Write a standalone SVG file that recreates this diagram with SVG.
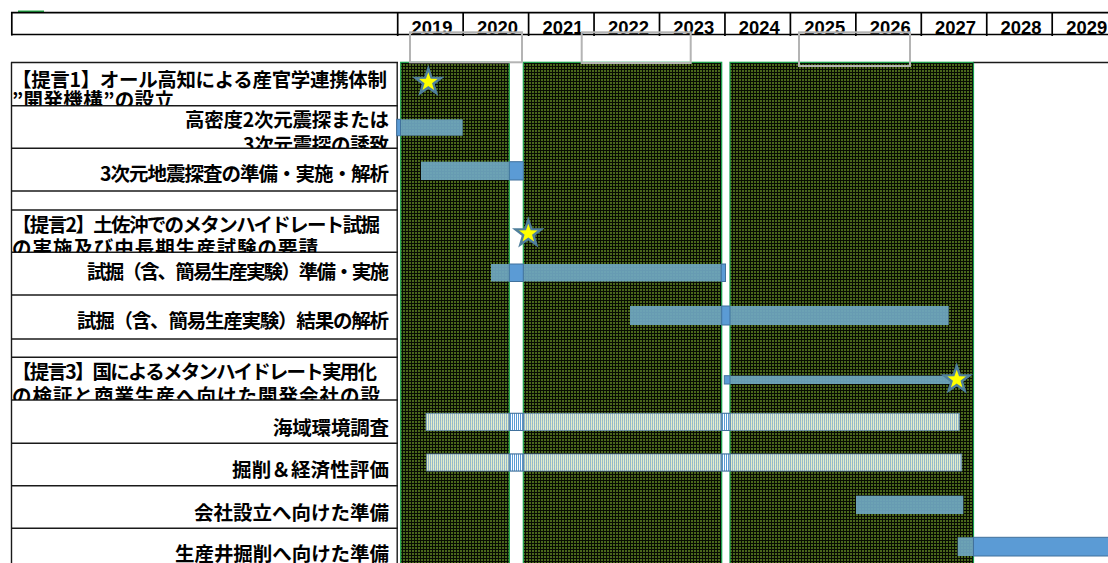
<svg xmlns="http://www.w3.org/2000/svg" width="1108" height="563" viewBox="0 0 1108 563">
<defs>
<style>
.lbl{font-family:"Noto Sans CJK JP","Noto Sans CJK SC",sans-serif;font-weight:700;font-size:19.5px;fill:#000}
.yr{font-family:"Liberation Sans",Arial,sans-serif;font-weight:700;font-size:19px;fill:#000;text-anchor:middle}
.rl{stroke:#1a1a1a;stroke-width:1.4;fill:none}
.hl{stroke:#000;stroke-width:1.7;fill:none}
.blk{fill:url(#grid);stroke:#19a34f;stroke-width:1.2}
.bin{fill:#6fa7bf;opacity:0.93}
.bout{fill:#5b9bd5;stroke:#41719c;stroke-width:1}
.sin{fill:url(#stripeIn);stroke:#6c93b5;stroke-width:0.8;opacity:0.95}
.sout{fill:url(#stripeOut);stroke:#41719c;stroke-width:1}
.star{fill:#ffff00;stroke:#4f7f9c;stroke-width:2.4;stroke-linejoin:miter}
.gbox{fill:none;stroke:#b4b4b4;stroke-width:2}
</style>
<pattern id="grid" width="3" height="3" patternUnits="userSpaceOnUse">
<rect width="3" height="3" fill="#080b03"/>
<rect x="1" y="1" width="2" height="2" fill="#4a671b"/>
</pattern>
<pattern id="stripeIn" width="2" height="4" patternUnits="userSpaceOnUse">
<rect width="2" height="4" fill="#eef7d4"/>
<rect width="1" height="4" fill="#9cc0d6"/>
</pattern>
<pattern id="stripeOut" width="2" height="4" patternUnits="userSpaceOnUse">
<rect width="2" height="4" fill="#ffffff"/>
<rect width="1" height="4" fill="#5b9bd5"/>
</pattern>
<clipPath id="c1"><rect x="11" y="62.5" width="387" height="43"/></clipPath>
<clipPath id="c2"><rect x="11" y="105.7" width="387" height="42.6"/></clipPath>
<clipPath id="c5"><rect x="11" y="210" width="387" height="42.3"/></clipPath>
<clipPath id="c9"><rect x="11" y="357.3" width="387" height="42.7"/></clipPath>
<polygon id="starShape" points="0,-13.5 3.18,-4.37 12.84,-4.17 5.14,1.67 7.94,10.92 0,5.4 -7.94,10.92 -5.14,1.67 -12.84,-4.17 -3.18,-4.37"/>
</defs>
<rect x="0" y="0" width="1108" height="563" fill="#ffffff"/>

<g id="phase-blocks">
<rect class="blk" x="400.7" y="62.3" width="108.6" height="505"/>
<rect class="blk" x="523.3" y="62.3" width="198.4" height="505"/>
<rect class="blk" x="730" y="62.3" width="243.5" height="505"/>
</g>

<g id="table-grid">
<line class="rl" x1="11.5" y1="62.3" x2="11.5" y2="563"/>
<line class="rl" x1="397.2" y1="62.3" x2="397.2" y2="563"/>
<line class="rl" x1="11" y1="62.5" x2="398" y2="62.5"/>
<line class="rl" x1="973.5" y1="62.5" x2="1108" y2="62.5"/>
<line class="rl" x1="11" y1="105.7" x2="398" y2="105.7"/>
<line class="rl" x1="11" y1="148.3" x2="398" y2="148.3"/>
<line class="rl" x1="11" y1="191" x2="398" y2="191"/>
<line class="rl" x1="11" y1="210" x2="398" y2="210"/>
<line class="rl" x1="11" y1="252.3" x2="398" y2="252.3"/>
<line class="rl" x1="11" y1="295" x2="398" y2="295"/>
<line class="rl" x1="11" y1="339" x2="398" y2="339"/>
<line class="rl" x1="11" y1="357.3" x2="398" y2="357.3"/>
<line class="rl" x1="11" y1="400" x2="398" y2="400"/>
<line class="rl" x1="11" y1="443.3" x2="398" y2="443.3"/>
<line class="rl" x1="11" y1="485.7" x2="398" y2="485.7"/>
<line class="rl" x1="11" y1="528.3" x2="398" y2="528.3" stroke-width="2"/>
</g>

<g id="row-proposal1" clip-path="url(#c1)">
<text class="lbl" x="12" y="86.5" textLength="375">【提言1】オール高知による産官学連携体制</text>
<text class="lbl" x="12" y="107" textLength="162">”開発機構”の設立</text>
</g>
<g id="row-seismic-invite" clip-path="url(#c2)">
<text class="lbl" x="389" y="126.5" text-anchor="end" textLength="204">高密度2次元震探または</text>
<text class="lbl" x="389" y="151.5" text-anchor="end" textLength="146">3次元震探の誘致</text>
</g>
<g id="row-3d-seismic">
<text class="lbl" x="389" y="181" text-anchor="end" textLength="289">3次元地震探査の準備・実施・解析</text>
</g>
<g id="row-proposal2" clip-path="url(#c5)">
<text class="lbl" x="12" y="231.5" textLength="368">【提言2】土佐沖でのメタンハイドレート試掘</text>
<text class="lbl" x="12" y="255" textLength="306">の実施及び中長期生産試験の要請</text>
</g>
<g id="row-trial-drill">
<text class="lbl" x="389" y="278.5" text-anchor="end" textLength="302">試掘（含、簡易生産実験）準備・実施</text>
</g>
<g id="row-trial-analysis">
<text class="lbl" x="389" y="327.5" text-anchor="end" textLength="312">試掘（含、簡易生産実験）結果の解析</text>
</g>
<g id="row-proposal3" clip-path="url(#c9)">
<text class="lbl" x="12" y="379" textLength="365">【提言3】国によるメタンハイドレート実用化</text>
<text class="lbl" x="12" y="402.5" textLength="368">の検証と商業生産へ向けた開発会社の設</text>
</g>
<g id="row-marine-env">
<text class="lbl" x="389" y="434.5" text-anchor="end" textLength="116">海域環境調査</text>
</g>
<g id="row-drill-econ">
<text class="lbl" x="389" y="477" text-anchor="end" textLength="157">掘削＆経済性評価</text>
</g>
<g id="row-company-prep">
<text class="lbl" x="389" y="519.5" text-anchor="end" textLength="195">会社設立へ向けた準備</text>
</g>
<g id="row-well-prep">
<text class="lbl" x="389" y="560.5" text-anchor="end" textLength="214">生産井掘削へ向けた準備</text>
</g>

<g id="connectors">
<rect class="bin" x="400.5" y="119.3" width="62.2" height="16.4"/>
<rect class="bout" x="396.7" y="119.3" width="3.8" height="16.4"/>
<rect class="bin" x="421" y="161.7" width="88.3" height="18.3"/>
<rect class="bout" x="509.3" y="161.7" width="14" height="18.3"/>
<rect class="bin" x="491" y="264" width="230.7" height="17.5"/>
<rect class="bout" x="509.3" y="264" width="14" height="17.5"/>
<rect class="bout" x="721.2" y="264" width="4.3" height="17.5"/>
<rect class="bin" x="630" y="306" width="318.7" height="19"/>
<rect class="bout" x="721.7" y="306" width="8.3" height="19"/>
<rect class="bin" x="730" y="375.7" width="220" height="8.3"/>
<rect class="bout" x="724.3" y="375.7" width="5.7" height="8.3"/>
<rect class="sin" x="426" y="413.3" width="533.3" height="17.2"/>
<rect class="sout" x="509.3" y="413.3" width="14" height="17.2"/>
<rect class="sout" x="721.7" y="413.3" width="8.3" height="17.2"/>
<rect class="sin" x="426.7" y="454" width="535" height="17"/>
<rect class="sout" x="509.3" y="454" width="14" height="17"/>
<rect class="sout" x="721.7" y="454" width="8.3" height="17"/>
<rect class="bin" x="856" y="495.7" width="107.3" height="18.3"/>
<rect class="bin" x="957.7" y="537.3" width="15.8" height="18.7"/>
<rect class="bout" x="973.5" y="537.3" width="140" height="18.7"/>
</g>

<g id="milestones">
<use href="#starShape" class="star" x="428.3" y="82"/>
<use href="#starShape" class="star" x="528.3" y="233.5"/>
<use href="#starShape" class="star" x="956.7" y="379.5"/>
</g>

<g id="header">
<line x1="18" y1="11.5" x2="44" y2="11.5" stroke="#22aa44" stroke-width="2"/>
<line class="hl" x1="11" y1="12.7" x2="1108" y2="12.7"/>
<line class="hl" x1="11" y1="34.5" x2="1108" y2="34.5"/>
<line class="hl" x1="11.8" y1="12" x2="11.8" y2="35.5"/>
<line class="hl" x1="397.7" y1="12" x2="397.7" y2="36"/>
<line class="hl" x1="463.15" y1="12" x2="463.15" y2="36"/>
<line class="hl" x1="528.6" y1="12" x2="528.6" y2="36"/>
<line class="hl" x1="594.05" y1="12" x2="594.05" y2="36"/>
<line class="hl" x1="659.5" y1="12" x2="659.5" y2="36"/>
<line class="hl" x1="724.95" y1="12" x2="724.95" y2="36"/>
<line class="hl" x1="790.4" y1="12" x2="790.4" y2="36"/>
<line class="hl" x1="855.85" y1="12" x2="855.85" y2="36"/>
<line class="hl" x1="921.3" y1="12" x2="921.3" y2="36"/>
<line class="hl" x1="986.75" y1="12" x2="986.75" y2="36"/>
<line class="hl" x1="1052.2" y1="12" x2="1052.2" y2="36"/>
<text class="yr" x="432" y="33.6" textLength="41" lengthAdjust="spacingAndGlyphs">2019</text>
<text class="yr" x="497.5" y="33.6" textLength="41" lengthAdjust="spacingAndGlyphs">2020</text>
<text class="yr" x="562.9" y="33.6" textLength="41" lengthAdjust="spacingAndGlyphs">2021</text>
<text class="yr" x="628.4" y="33.6" textLength="41" lengthAdjust="spacingAndGlyphs">2022</text>
<text class="yr" x="693.8" y="33.6" textLength="41" lengthAdjust="spacingAndGlyphs">2023</text>
<text class="yr" x="759.3" y="33.6" textLength="41" lengthAdjust="spacingAndGlyphs">2024</text>
<text class="yr" x="824.7" y="33.6" textLength="41" lengthAdjust="spacingAndGlyphs">2025</text>
<text class="yr" x="890.2" y="33.6" textLength="41" lengthAdjust="spacingAndGlyphs">2026</text>
<text class="yr" x="955.6" y="33.6" textLength="41" lengthAdjust="spacingAndGlyphs">2027</text>
<text class="yr" x="1021.1" y="33.6" textLength="41" lengthAdjust="spacingAndGlyphs">2028</text>
<text class="yr" x="1086.8" y="33.6" textLength="41" lengthAdjust="spacingAndGlyphs">2029</text>
</g>

<g id="highlight-boxes">
<rect class="gbox" x="410" y="32.3" width="112" height="30"/>
<rect class="gbox" x="581.7" y="32.3" width="109" height="30.7"/>
<rect class="gbox" x="799" y="32.3" width="111" height="33.7"/>
</g>
</svg>
